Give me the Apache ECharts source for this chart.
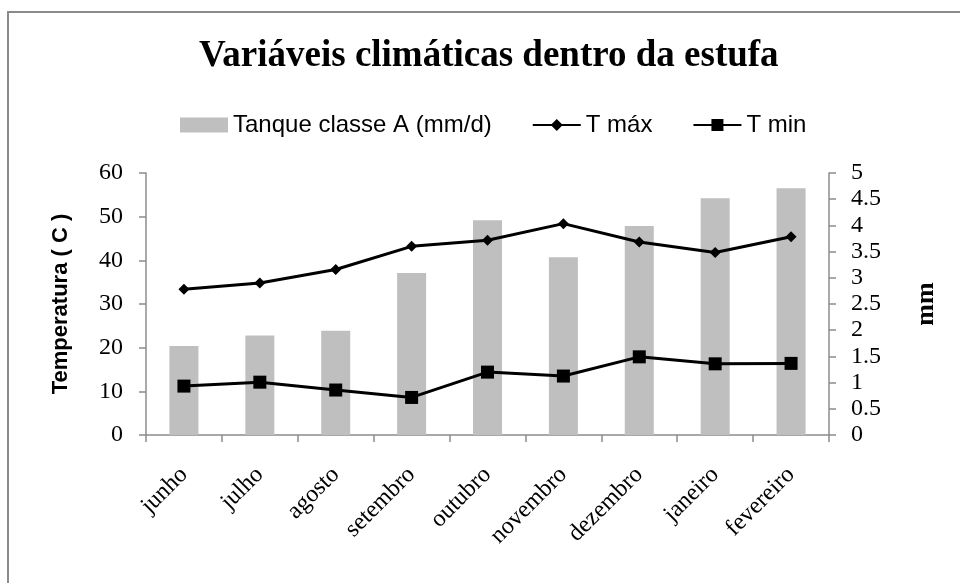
<!DOCTYPE html>
<html>
<head>
<meta charset="utf-8">
<script src="https://cdn.jsdelivr.net/npm/echarts@6/dist/echarts.min.js"></script>
<style>html,body{margin:0;padding:0;background:#fff}#c{width:960px;height:583px}</style>
</head>
<body>
<div id="c"></div>
<script>
const categories = ['junho','julho','agosto','setembro','outubro','novembro','dezembro','janeiro','fevereiro'];
const tanque = [1.70, 1.90, 1.99, 3.09, 4.10, 3.39, 3.99, 4.52, 4.71];
const tmax = [33.4, 34.8, 37.9, 43.2, 44.6, 48.4, 44.2, 41.8, 45.4];
const tmin = [11.2, 12.1, 10.3, 8.6, 14.4, 13.5, 17.9, 16.3, 16.4];
const titleText = 'Variáveis climáticas dentro da estufa';
const leftName = 'Temperatura ( C )';
const rightName = 'mm';

const chart = echarts.init(document.getElementById('c'));
const axisGray = '#8c8c8c';
const serif = '"Liberation Serif","Times New Roman",serif';
const sans = '"Liberation Sans",Arial,sans-serif';
chart.setOption({
  animation: false,
  backgroundColor: '#fff',
  graphic: [{
    type: 'rect', shape: {x: 8, y: 12, width: 1000, height: 700},
    style: {fill: 'none', stroke: '#8a8a8a', lineWidth: 2}, silent: true
  }],
  title: {
    text: titleText, left: 194, top: 33,
    textStyle: {fontFamily: serif, fontWeight: 'bold', fontSize: 37, color: '#000'}
  },
  legend: {
    top: 108, left: 175, itemGap: 40,
    textStyle: {fontFamily: sans, fontSize: 24, color: '#000'},
    data: [
      {name: 'Tanque classe A (mm/d)', icon: 'rect', itemStyle: {color: '#bfbfbf'}},
      {name: 'T máx'},
      {name: 'T min'}
    ],
    itemWidth: 48, itemHeight: 15
  },
  grid: {left: 146, right: 131, top: 173, bottom: 148},
  xAxis: {
    type: 'category', data: categories, boundaryGap: true,
    axisLine: {lineStyle: {color: axisGray, width: 1.5}},
    axisTick: {show: true, length: 7, lineStyle: {color: axisGray, width: 1.5}},
    axisLabel: {rotate: 45, fontFamily: serif, fontSize: 24, color: '#000', margin: 36}
  },
  yAxis: [{
    type: 'value', min: 0, max: 60, interval: 10, position: 'left',
    name: leftName, nameLocation: 'middle', nameGap: 74,
    nameTextStyle: {fontFamily: sans, fontSize: 22, fontWeight: 'bold', color: '#000'},
    axisLine: {show: true, lineStyle: {color: axisGray, width: 1.5}},
    axisTick: {show: true, length: 7, lineStyle: {color: axisGray, width: 1.5}},
    splitLine: {show: false},
    axisLabel: {fontFamily: serif, fontSize: 24, color: '#000', margin: 23}
  }, {
    type: 'value', min: 0, max: 5, interval: 0.5, position: 'right',
    name: rightName, nameLocation: 'middle', nameGap: 84,
    nameTextStyle: {fontFamily: serif, fontSize: 26, fontWeight: 'bold', color: '#000'},
    axisLine: {show: true, lineStyle: {color: axisGray, width: 1.5}},
    axisTick: {show: true, length: 7, lineStyle: {color: axisGray, width: 1.5}},
    splitLine: {show: false},
    axisLabel: {fontFamily: serif, fontSize: 24, color: '#000', margin: 22}
  }],
  series: [{
    name: 'Tanque classe A (mm/d)', type: 'bar', yAxisIndex: 1, data: tanque,
    barWidth: 29, itemStyle: {color: '#bfbfbf'}
  }, {
    name: 'T máx', type: 'line', yAxisIndex: 0, data: tmax,
    symbol: 'diamond', symbolSize: 11,
    lineStyle: {color: '#000', width: 3}, itemStyle: {color: '#000'}
  }, {
    name: 'T min', type: 'line', yAxisIndex: 0, data: tmin,
    symbol: 'rect', symbolSize: 13,
    lineStyle: {color: '#000', width: 3}, itemStyle: {color: '#000'}
  }]
});
</script>
</body>
</html>
